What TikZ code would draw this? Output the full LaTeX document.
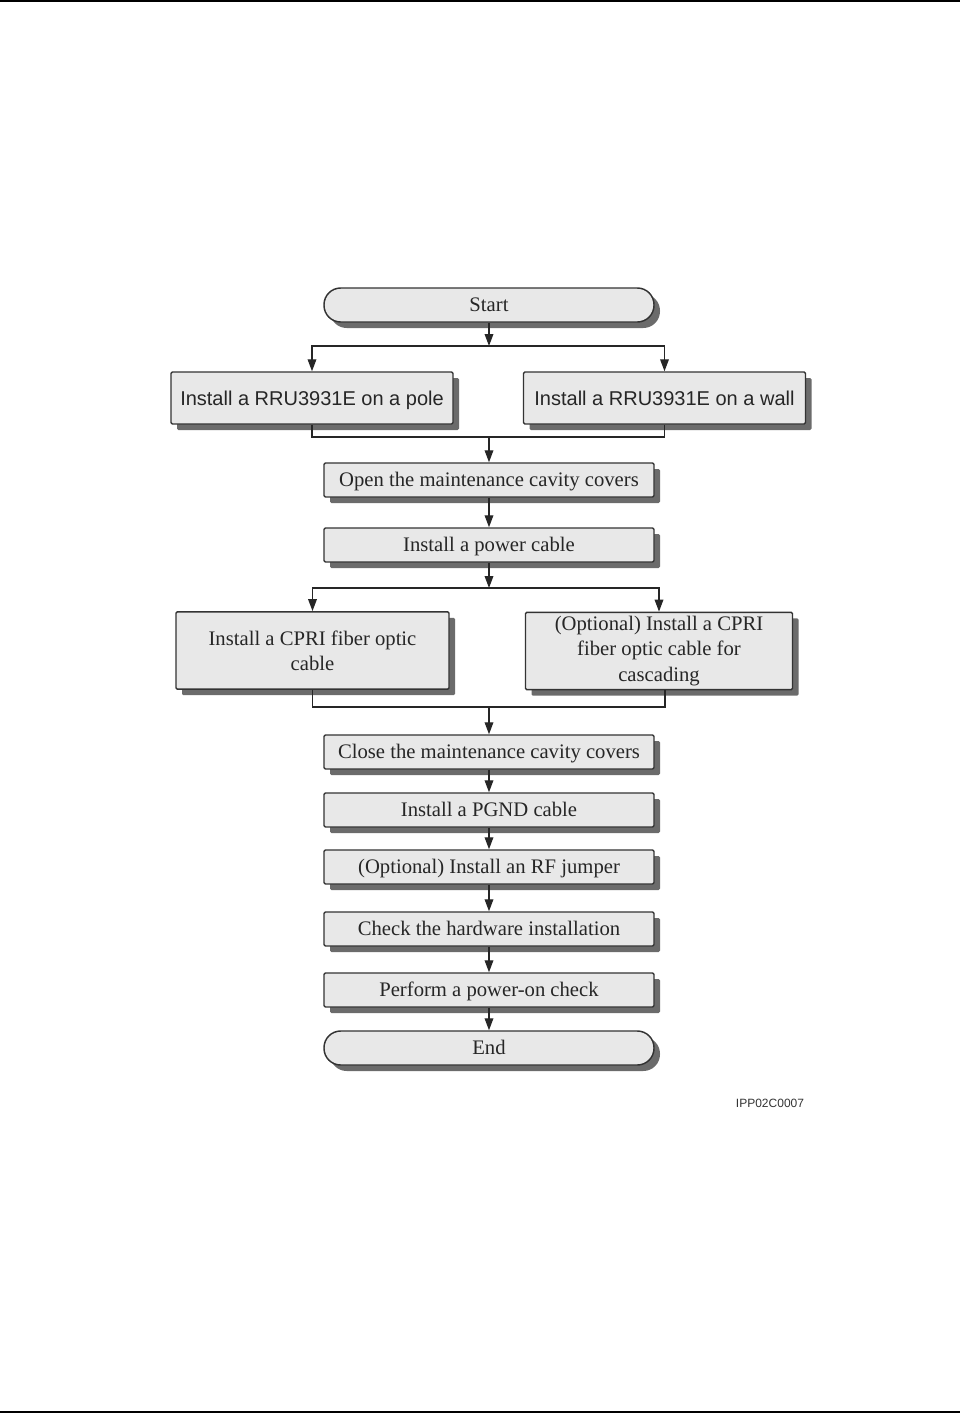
\documentclass[tikz,border=0pt]{standalone}
\usepackage{fontspec}
\setmainfont{Liberation Serif}
\newfontfamily\arialfont{Liberation Sans}
\usetikzlibrary{arrows.meta,shadows}

\tikzset{
  boxshadow/.style={drop shadow={shadow xshift=4.5pt,shadow yshift=-4.5pt,fill=black!58,opacity=1}},
  stepbox/.style={draw=black!80,line width=1.1pt,fill=black!9,rounded corners=1pt,
    minimum width=247.5pt,minimum height=25.5pt,inner sep=0pt,text=black!85,
    text height=13pt,text depth=3pt,
    font=\fontsize{15.5}{19}\selectfont,align=center,boxshadow},
  termbox/.style={stepbox,rounded corners=12.5pt},
  sidebox/.style={stepbox,minimum width=211.5pt,minimum height=39pt,
    text height=13.5pt,font=\arialfont\fontsize{15}{18}\selectfont},
  cablebox/.style={stepbox,minimum height=58pt,text height={},text depth={}},
  flow/.style={line width=1pt,draw=black!85,-{Triangle[length=9pt,width=6.5pt]}},
  link/.style={line width=1pt,draw=black!85},
}

\begin{document}
\begin{tikzpicture}[x=0.75pt,y=-0.75pt]
\useasboundingbox (0,0) rectangle (965,1414);
\draw[line width=1.5pt] (0,1) -- (960,1);
\draw[line width=1.5pt] (0,1412) -- (960,1412);

\node[termbox] (start) at (489,305) {Start};
\node[sidebox] (pole) at (312,398) {Install a RRU3931E on a pole};
\node[sidebox] (wall) at (664.5,398) {Install a RRU3931E on a wall};
\node[stepbox] (open) at (489,480) {Open the maintenance cavity covers};
\node[stepbox] (power) at (489,545) {Install a power cable};
\node[cablebox,minimum width=204.75pt] (cpri) at (312.5,650.5) {Install a CPRI fiber optic\\cable};
\node[cablebox,minimum width=200.25pt] (cpriopt) at (659,651) {(Optional) Install a CPRI\\fiber optic cable for\\cascading};
\node[stepbox] (close) at (489,752) {Close the maintenance cavity covers};
\node[stepbox] (pgnd) at (489,810) {Install a PGND cable};
\node[stepbox] (rf) at (489,867) {(Optional) Install an RF jumper};
\node[stepbox] (check) at (489,929) {Check the hardware installation};
\node[stepbox] (poweron) at (489,990) {Perform a power-on check};
\node[termbox] (end) at (489,1048) {End};

\coordinate (split1) at (489,346);
\coordinate (merge1) at (489,437);
\coordinate (split2) at (489,588);
\coordinate (merge2) at (489,707);

\draw[flow] (start) -- (split1);
\draw[flow] (split1) -| (pole.north);
\draw[flow] (split1) -| (wall.north);
\draw[link] (pole.south) |- (merge1);
\draw[link] (wall.south) |- (merge1);
\draw[flow] (merge1) -- (open);
\draw[flow] (open) -- (power);
\draw[flow] (power) -- (split2);
\draw[flow] (split2) -| (cpri.north);
\draw[flow] (split2) -| (cpriopt.north);
\draw[link] (cpri.south) |- (merge2);
\draw[link] ([xshift=4.5pt]cpriopt.south) |- (merge2);
\draw[flow] (merge2) -- (close);
\draw[flow] (close) -- (pgnd);
\draw[flow] (pgnd) -- (rf);
\draw[flow] (rf) -- (check);
\draw[flow] (check) -- (poweron);
\draw[flow] (poweron) -- (end);

\node[font=\arialfont\fontsize{9}{11}\selectfont,text=black!80] (figid) at (770,1103) {IPP02C0007};
\end{tikzpicture}
\end{document}
